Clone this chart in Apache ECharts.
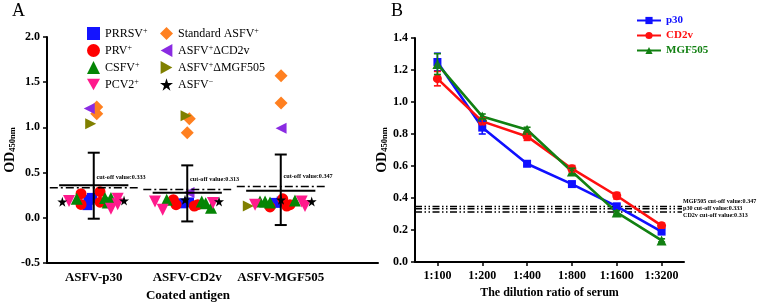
<!DOCTYPE html>
<html><head><meta charset="utf-8">
<script src="https://cdn.jsdelivr.net/npm/echarts@6/dist/echarts.min.js"></script>
<style>html,body{margin:0;padding:0;background:#fff}#c{width:767px;height:305px}</style>
</head><body><div id="c"></div>
<script>
const FONT = '"Liberation Serif","Times New Roman",serif';

// ---------- Panel A data ----------
const catsA = ['ASFV-p30', 'ASFV-CD2v', 'ASFV-MGF505'];
const prrsv = [[0.933,0.14],[0.944,0.20],[0.981,0.22],[1.951,0.16],[2.019,0.17],[2.939,0.165],[3.01,0.18]];
const prv = [[0.864,0.267],[0.864,0.148],[1.067,0.289],[1.067,0.173],[1.851,0.2],[1.88,0.145],[2.075,0.13],[2.112,0.145],[2.885,0.12],[3.021,0.21],[3.064,0.13],[3.099,0.145]];
const csfv = [[0.818,0.21],[1.12,0.22],[1.184,0.22],[1.149,0.17],[1.78,0.2],[2.155,0.18],[2.197,0.16],[2.254,0.11],[2.778,0.18],[2.832,0.18],[2.885,0.17],[3.152,0.19]];
const pcv2 = [[0.735,0.185],[1.256,0.21],[1.256,0.15],[1.184,0.10],[1.655,0.18],[1.737,0.09],[2.275,0.165],[2.725,0.145],[3.224,0.18],[3.259,0.13]];
const stdAsfv = [[1.032,1.225],[1.032,1.15],[2.022,1.095],[2.0,0.94],[3.003,1.57],[3.003,1.27]];
const dCD2v = [[0.952,1.21],[2.019,0.28],[3.003,0.99]];
const dMGF505 = [[0.967,1.04],[1.987,1.13],[2.653,0.13]];
const asfvNeg = [[0.664,0.178],[1.324,0.19],[1.976,0.2],[2.34,0.18],[3.003,0.2],[3.331,0.18]];
const meanA = [0.36, 0.277, 0.30];
const lowA = [-0.01, -0.04, -0.08];
const highA = [0.72, 0.58, 0.70];
const cutoffA = [0.333, 0.313, 0.347];

// ---------- Panel B data ----------
const dilutions = ['1:100', '1:200', '1:400', '1:800', '1:1600', '1:3200'];
const p30 = [1.25, 0.84, 0.614, 0.487, 0.348, 0.19];
const p30Err = [0.055, 0.04, 0.012, 0.012, 0.012, 0.012];
const cd2v = [1.146, 0.879, 0.785, 0.583, 0.414, 0.227];
const cd2vErr = [0.045, 0.02, 0.025, 0.02, 0.02, 0.015];
const mgf505 = [1.237, 0.91, 0.827, 0.566, 0.31, 0.135];
const mgf505Err = [0.065, 0.015, 0.015, 0.02, 0.01, 0.01];
const cutNamesB = ['MGF505', 'p30', 'CD2v'];
const cutValsB = [0.347, 0.333, 0.313];

const STAR = 'path://M50,0 L61,35 L98,35 L68,57 L79,91 L50,70 L21,91 L32,57 L2,35 L39,35 Z';
const TRI_DOWN = 'path://M0,0 L100,0 L50,90 Z';
const TRI_LEFT = 'path://M90,0 L90,100 L0,50 Z';
const TRI_RIGHT = 'path://M0,0 L0,100 L90,50 Z';

const aSeries = [
  {name:'PRRSV+', data:prrsv, symbol:'rect', size:10, color:'#1414ff', label:'PRRSV{sup|+}'},
  {name:'PRV+', data:prv, symbol:'circle', size:11, color:'#ff0000', label:'PRV{sup|+}'},
  {name:'CSFV+', data:csfv, symbol:'triangle', size:12, color:'#058505', label:'CSFV{sup|+}'},
  {name:'PCV2+', data:pcv2, symbol:TRI_DOWN, size:12, color:'#ff1a8c', label:'PCV2{sup|+}'},
  {name:'Standard ASFV+', data:stdAsfv, symbol:'diamond', size:13, color:'#ff8020', label:'Standard ASFV{sup|+}'},
  {name:'ASFV+ΔCD2v', data:dCD2v, symbol:TRI_LEFT, size:11, color:'#8a2be2', label:'ASFV{sup|+}ΔCD2v'},
  {name:'ASFV+ΔMGF505', data:dMGF505, symbol:TRI_RIGHT, size:11, color:'#808000', label:'ASFV{sup|+}ΔMGF505'},
  {name:'ASFV-', data:asfvNeg, symbol:STAR, size:10, color:'#000000', label:'ASFV{sup|−}'}
];
const labelMap = {};
aSeries.forEach(s => labelMap[s.name] = s.label);

const series = [];
aSeries.forEach(s => series.push({
  type:'scatter', name:s.name, xAxisIndex:0, yAxisIndex:0, data:s.data,
  symbol:s.symbol, symbolSize:s.size,
  itemStyle:{color:s.color, opacity:1}, z:3
}));

// error bars + mean (panel A)
series.push({
  type:'custom', xAxisIndex:0, yAxisIndex:0, z:5, silent:true,
  data: catsA.map((c,i)=>[i+1, meanA[i], lowA[i], highA[i]]),
  renderItem(params, api){
    const x = api.value(0), m = api.value(1), lo = api.value(2), hi = api.value(3);
    const top = api.coord([x, hi]), bot = api.coord([x, lo]);
    const ml = api.coord([x-0.37, m]), mr = api.coord([x+0.37, m]);
    const w = 6, st = {stroke:'#000', lineWidth:2};
    return {type:'group', children:[
      {type:'line', shape:{x1:top[0],y1:top[1],x2:bot[0],y2:bot[1]}, style:st},
      {type:'line', shape:{x1:top[0]-w,y1:top[1],x2:top[0]+w,y2:top[1]}, style:st},
      {type:'line', shape:{x1:bot[0]-w,y1:bot[1],x2:bot[0]+w,y2:bot[1]}, style:st},
      {type:'line', shape:{x1:ml[0],y1:ml[1],x2:mr[0],y2:mr[1]}, style:st}
    ]};
  }
});
// cutoff lines (panel A)
series.push({
  type:'custom', xAxisIndex:0, yAxisIndex:0, z:4, silent:true,
  data: catsA.map((c,i)=>[i+1, cutoffA[i]]),
  renderItem(params, api){
    const x = api.value(0), v = api.value(1);
    const l = api.coord([Math.max(0.5, x-0.47), v]), r = api.coord([x+0.47, v]);
    const t = api.coord([x+0.03, v]);
    return {type:'group', children:[
      {type:'line', shape:{x1:l[0],y1:l[1],x2:r[0],y2:r[1]}, style:{stroke:'#000', lineWidth:1.6, lineDash:[8,3,2,3]}},
      {type:'text', x:t[0], y:t[1]-10, style:{text:'cut-off value:' + v.toFixed(3), font:'bold 6.2px ' + FONT, fill:'#000', align:'left', verticalAlign:'middle'}}
    ]};
  }
});

// ---------- Panel B series ----------
const bSeries = [
  {name:'p30', data:p30, err:p30Err, symbol:'rect', size:8, color:'#1010ff'},
  {name:'CD2v', data:cd2v, err:cd2vErr, symbol:'circle', size:9, color:'#ff1010'},
  {name:'MGF505', data:mgf505, err:mgf505Err, symbol:'triangle', size:10, color:'#128012'}
];
bSeries.forEach(s => {
  series.push({
    type:'line', name:s.name, xAxisIndex:1, yAxisIndex:1, data:s.data,
    symbol:s.symbol, symbolSize:s.size, showAllSymbol:true,
    lineStyle:{color:s.color, width:2.6}, itemStyle:{color:s.color}, z:3
  });
  series.push({
    type:'custom', xAxisIndex:1, yAxisIndex:1, z:4, silent:true,
    data: s.data.map((v,i)=>[i, v, s.err[i]]),
    renderItem(params, api){
      const x = api.value(0), v = api.value(1), e = api.value(2);
      const top = api.coord([x, v+e]), bot = api.coord([x, v-e]);
      const w = 3.5, st = {stroke:s.color, lineWidth:1.6};
      return {type:'group', children:[
        {type:'line', shape:{x1:top[0],y1:top[1],x2:bot[0],y2:bot[1]}, style:st},
        {type:'line', shape:{x1:top[0]-w,y1:top[1],x2:top[0]+w,y2:top[1]}, style:st},
        {type:'line', shape:{x1:bot[0]-w,y1:bot[1],x2:bot[0]+w,y2:bot[1]}, style:st}
      ]};
    }
  });
});
// cutoff lines (panel B)
series.push({
  type:'custom', xAxisIndex:1, yAxisIndex:1, z:2, silent:true,
  data: cutValsB.map((v,i)=>[0, v, i]),
  renderItem(params, api){
    const v = api.value(1), i = api.value(2);
    const cs = params.coordSys;
    const p = api.coord([0, v]);
    const mid = api.coord([0, cutValsB[1]]);
    const x1 = cs.x, x2 = cs.x + cs.width - 2;
    return {type:'group', children:[
      {type:'line', shape:{x1:x1,y1:p[1],x2:x2,y2:p[1]}, style:{stroke:'#000', lineWidth:1.5, lineDash:[7,2.5,1.5,2.5,1.5,2.5]}},
      {type:'text', x:x2 + 1, y:mid[1] + (i-1)*7, style:{text:cutNamesB[i] + ' cut-off value:' + v.toFixed(3), font:'bold 6.1px ' + FONT, fill:'#000', align:'left', verticalAlign:'middle'}}
    ]};
  }
});

const axisLine = {show:true, onZero:false, lineStyle:{color:'#000', width:2}};
const tickLabel = {color:'#000', fontFamily:FONT, fontWeight:'bold', fontSize:12};
const subRich = {
  base:{fontFamily:FONT, fontWeight:'bold', fontSize:14, color:'#000'},
  sub:{fontFamily:FONT, fontWeight:'bold', fontSize:8.5, color:'#000', verticalAlign:'bottom', lineHeight:10}
};
const supRich = {sup:{fontFamily:FONT, fontSize:8, color:'#000', verticalAlign:'top', lineHeight:8}};

const option = {
  animation:false,
  backgroundColor:'#fff',
  title:[
    {text:'A', left:12, top:2, padding:0, textStyle:{fontFamily:FONT, fontWeight:'normal', fontSize:18, color:'#000'}},
    {text:'B', left:391, top:2, padding:0, textStyle:{fontFamily:FONT, fontWeight:'normal', fontSize:18, color:'#000'}}
  ],
  legend:[
    {data:aSeries.slice(0,4).map(s=>s.name), orient:'vertical', left:87, top:27, itemWidth:13, itemHeight:13, itemGap:4, padding:0,
     formatter:n=>labelMap[n], textStyle:{fontFamily:FONT, fontSize:12, color:'#000', lineHeight:13, rich:supRich}},
    {data:aSeries.slice(4).map(s=>s.name), orient:'vertical', left:160, top:27, itemWidth:13, itemHeight:13, itemGap:4, padding:0,
     formatter:n=>labelMap[n], textStyle:{fontFamily:FONT, fontSize:12, color:'#000', lineHeight:13, rich:supRich}},
    {data:bSeries.map(s=>({name:s.name, textStyle:{color:s.color}})), orient:'vertical', left:636, top:15, itemWidth:24, itemHeight:9, itemGap:4, padding:0,
     textStyle:{fontFamily:FONT, fontSize:11, fontWeight:'bold'}}
  ],
  grid:[
    {left:47, top:37, width:331, height:226},
    {left:415, top:38, width:269, height:224}
  ],
  xAxis:[
    {type:'value', gridIndex:0, min:0.5, max:4.04, axisLine:axisLine, axisTick:{show:false}, splitLine:{show:false},
     axisLabel:Object.assign({}, tickLabel, {fontSize:13, margin:8, customValues:[1,2,3], formatter:v=>catsA[Math.round(v)-1] || ''})},
    {type:'category', gridIndex:1, data:dilutions, boundaryGap:true, axisLine:axisLine,
     axisTick:{show:true, alignWithLabel:true, length:4, lineStyle:{width:1.5, color:'#000'}},
     axisLabel:Object.assign({}, tickLabel, {margin:8}),
     name:'The dilution ratio of serum', nameLocation:'middle', nameGap:25,
     nameTextStyle:{fontFamily:FONT, fontWeight:'bold', fontSize:12, color:'#000'}}
  ],
  yAxis:[
    {type:'value', gridIndex:0, min:-0.5, max:2, interval:0.5, axisLine:axisLine,
     axisTick:{show:true, length:4, lineStyle:{width:1.5, color:'#000'}}, splitLine:{show:false},
     axisLabel:Object.assign({}, tickLabel, {margin:7, formatter:v=>v.toFixed(1)}),
     name:'{base|OD}{sub|450nm}', nameLocation:'middle', nameGap:25,
     nameTextStyle:{rich:subRich}},
    {type:'value', gridIndex:1, min:0, max:1.4, interval:0.2, axisLine:axisLine,
     axisTick:{show:true, length:4, lineStyle:{width:1.5, color:'#000'}}, splitLine:{show:false},
     axisLabel:Object.assign({}, tickLabel, {margin:7, formatter:v=>v.toFixed(1)}),
     name:'{base|OD}{sub|450nm}', nameLocation:'middle', nameGap:22,
     nameTextStyle:{rich:subRich}}
  ],
  graphic:[
    {type:'text', x:188, y:296, style:{text:'Coated antigen', font:'bold 13px ' + FONT, fill:'#000', align:'center', verticalAlign:'middle'}}
  ],
  series:series
};
const chart = echarts.init(document.getElementById('c'));
chart.setOption(option);
</script></body></html>
